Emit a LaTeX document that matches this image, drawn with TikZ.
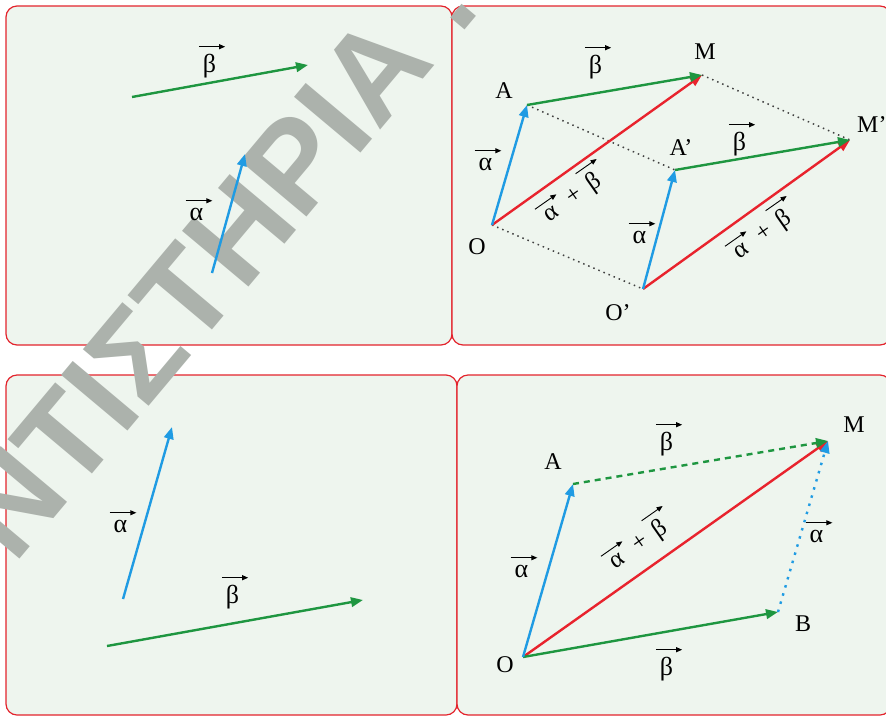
\documentclass[tikz,border=0pt]{standalone}
\usepackage{fontspec}
\setmainfont{Liberation Serif}
\newfontfamily\markfont{Liberation Sans}
\usetikzlibrary{arrows.meta, positioning}
\definecolor{PanelRed}{HTML}{E3232C}
\definecolor{PanelFill}{HTML}{EEF5EE}
\definecolor{VecGreen}{HTML}{1E9640}
\definecolor{VecBlue}{HTML}{1F9BE3}
\definecolor{VecRed}{HTML}{E8232D}
\definecolor{MarkGray}{HTML}{ACB2AC}

\newcommand{\vlbl}[1]{\tikz[baseline=(vl.base)]{\node[inner sep=0pt, outer sep=0pt, anchor=center] (vl) {#1};
  \draw[black, line width=0.9pt, -{Triangle[length=6pt,width=5pt]}] ([xshift=-4pt,yshift=7pt]vl.north west) -- ([xshift=9pt,yshift=7pt]vl.north east);}}

\begin{document}
\begin{tikzpicture}[x=1pt, y=-1pt,
    panel/.style={draw=PanelRed, fill=PanelFill, line width=1.2pt, rounded corners=11pt},
    vec/.style={line width=2.4pt, -{Triangle[length=12pt,width=9.5pt]}},
    pt/.style={inner sep=0pt, font=\fontsize{24}{28}\selectfont},
    gr/.style={inner sep=0pt, anchor=base, font=\fontsize{26}{30}\selectfont},
    sum/.style={inner sep=0pt, rotate=35, font=\fontsize{25}{30}\selectfont},
    guide/.style={line width=1.5pt, draw=black!75, dash pattern=on 1.5pt off 4pt}
  ]
  \useasboundingbox (0,0) rectangle (886,716);
  \clip (0,0) rectangle (886,716);

  \draw[panel] (6,6) rectangle (452,345);
  \draw[panel] (452,6) rectangle (891,345);
  \draw[panel] (6,375) rectangle (457,715);
  \draw[panel] (457,375) rectangle (891,715);

  \node[text=MarkGray, font=\markfont\bfseries\fontsize{126}{130}\selectfont, rotate=50,
    anchor=base east, inner sep=0pt] (mark) at (482,9) {ΦΡΟΝΤΙΣΤΗΡΙΑ .};

  % top left
  \coordinate (b1s) at (132,97);
  \coordinate (b1e) at (308,65);
  \coordinate (a1s) at (212,273);
  \coordinate (a1e) at (245,154);
  \draw[vec, VecGreen] (b1s) -- (b1e);
  \draw[vec, VecBlue] (a1s) -- (a1e);
  \node[gr] (lb1) at (212,72) {\vlbl{β}};
  \node[gr] (la1) at (199,220) {\vlbl{α}};

  % top right
  \coordinate (O) at (492,225);
  \coordinate (A) at (527,105);
  \coordinate (M) at (702,75);
  \coordinate (Op) at (643,289);
  \coordinate (Ap) at (675,170);
  \coordinate (Mp) at (850,140);
  \draw[guide] (A) -- (Ap);
  \draw[guide] (O) -- (Op);
  \draw[guide] (M) -- (Mp);
  \draw[vec, VecRed] (O) -- (M);
  \draw[vec, VecGreen] (A) -- (M);
  \draw[vec, VecBlue] (O) -- (A);
  \draw[vec, VecRed] (Op) -- (Mp);
  \draw[vec, VecGreen] (Ap) -- (Mp);
  \draw[vec, VecBlue] (Op) -- (Ap);
  \node[pt] (lO) at (477,247) {O};
  \node[pt] (lA) at (504,91) {A};
  \node[pt] (lM) at (705,52) {M};
  \node[pt] (lOp) at (618,313) {O'};
  \node[pt] (lAp) at (681,148) {A'};
  \node[pt, anchor=west] (lMp) at (857,125) {M'};
  \node[gr] (lb2) at (598,73) {\vlbl{β}};
  \node[gr] (lb3) at (742,150) {\vlbl{β}};
  \node[gr] (la2) at (488,170) {\vlbl{α}};
  \node[gr] (la3) at (642,243) {\vlbl{α}};
  \node[sum] (ls1) at (572,193) {\vlbl{α} + \vlbl{β}};
  \node[sum] (ls2) at (762,230) {\vlbl{α} + \vlbl{β}};

  % bottom left
  \coordinate (a4s) at (123,599);
  \coordinate (a4e) at (172,427);
  \coordinate (b4s) at (107,646);
  \coordinate (b4e) at (363,600);
  \draw[vec, VecBlue] (a4s) -- (a4e);
  \draw[vec, VecGreen] (b4s) -- (b4e);
  \node[gr] (la4) at (123,532) {\vlbl{α}};
  \node[gr] (lb4) at (235,603) {\vlbl{β}};

  % bottom right
  \coordinate (Ob) at (523,657);
  \coordinate (Ab) at (573,484);
  \coordinate (Bb) at (778,612);
  \coordinate (Mb) at (828,441);
  \draw[vec, VecRed] (Ob) -- (Mb);
  \draw[vec, VecGreen] (Ob) -- (Bb);
  \draw[vec, VecBlue] (Ob) -- (Ab);
  \draw[vec, VecGreen, dash pattern=on 6pt off 5pt] (Ab) -- (Mb);
  \draw[vec, VecBlue, dash pattern=on 2.5pt off 6pt] (Bb) -- (Mb);
  \node[pt] (lOb) at (505,665) {O};
  \node[pt] (lAb) at (553,462) {A};
  \node[pt] (lMb) at (854,425) {M};
  \node[pt] (lBb) at (803,624) {B};
  \node[gr] (lb5) at (669,450) {\vlbl{β}};
  \node[gr] (la5) at (819,542) {\vlbl{α}};
  \node[gr] (la6) at (524,577) {\vlbl{α}};
  \node[gr] (lb6) at (669,675) {\vlbl{β}};
  \node[sum] (ls3) at (638,540) {\vlbl{α} + \vlbl{β}};
\end{tikzpicture}
\end{document}
